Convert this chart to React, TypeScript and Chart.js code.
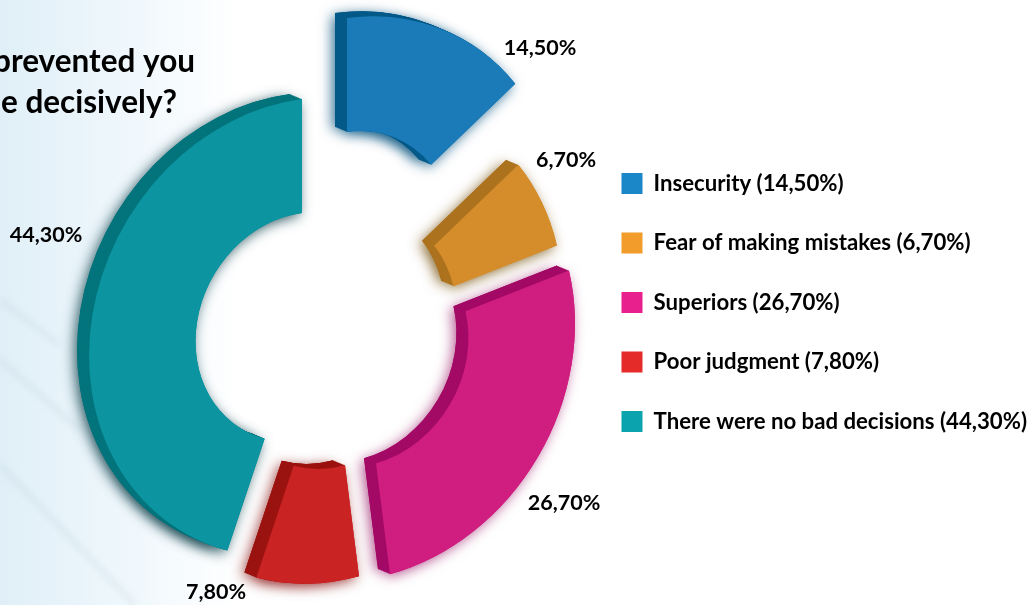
import React, { useEffect, useRef } from "react";
import { Chart, registerables } from "chart.js";

Chart.register(...registerables);

const categories = [
  "Insecurity",
  "Fear of making mistakes",
  "Superiors",
  "Poor judgment",
  "There were no bad decisions",
];
const shares = [14.5, 6.7, 26.7, 7.8, 44.3];
const faceColors = ["#1a7bb8", "#d58d2b", "#cf1d80", "#ca2323", "#0c94a0"];
const sideColors = ["#045a88", "#ad721e", "#a30a66", "#9b1310", "#03747c"];
const legendColors = ["#1b87c9", "#f29c2b", "#e7208e", "#e52a2a", "#0ba3ae"];
const shadowColors = [
  "rgba(4,82,126,0.75)",
  "rgba(122,84,16,0.75)",
  "rgba(143,0,88,0.6)",
  "rgba(138,26,24,0.7)",
  "rgba(20,70,80,0.8)",
];
const titleLines = ["prevented you", "e decisively?"];

// Exploded slice centres and value label anchors, in canvas pixels.
const sliceCentres = [
  [347, 246],
  [350, 327],
  [362, 352],
  [331, 354],
  [302, 327],
];
const labelAnchors = [
  [540, 48],
  [566, 160],
  [564, 503],
  [216, 592],
  [46, 235],
];

// Soft diagonal streaks in the page backdrop.
const streaks = [
  [0, 360, 80, 430],
  [0, 465, 135, 605],
  [0, 300, 60, 345],
];

const FONT = "Lato, 'Open Sans', sans-serif";
const pct = (v: number) => v.toFixed(2).replace(".", ",") + "%";

// Tilt of the ring plane and the direction of its extrusion.
const TILT_X = 0.934;
const TILT_Y = -0.125;
const DEPTH_X = -12;
const DEPTH_Y = -5;
const DEPTH_STEPS = 14;

const backdrop = {
  id: "backdrop",
  beforeDraw(chart: any) {
    const { ctx, width, height } = chart;
    ctx.save();
    ctx.fillStyle = "#ffffff";
    ctx.fillRect(0, 0, width, height);
    const g = ctx.createLinearGradient(0, 0, 240, 0);
    g.addColorStop(0, "#e0eff7");
    g.addColorStop(0.5, "#eef7fc");
    g.addColorStop(1, "#ffffff");
    ctx.fillStyle = g;
    ctx.fillRect(0, 0, 240, height);
    ctx.filter = "blur(3px)";
    ctx.strokeStyle = "rgba(170,190,205,0.25)";
    ctx.lineWidth = 4;
    streaks.forEach(([x0, y0, x1, y1]) => {
      ctx.beginPath();
      ctx.moveTo(x0, y0);
      ctx.lineTo(x1, y1);
      ctx.stroke();
    });
    ctx.filter = "none";
    ctx.fillStyle = "#000000";
    ctx.font = `bold 31.5px ${FONT}`;
    ctx.textAlign = "right";
    ctx.textBaseline = "alphabetic";
    ctx.fillText(titleLines[0], 195, 72);
    ctx.fillText(titleLines[1], 177, 113);
    ctx.restore();
  },
};

const extrudedRing = {
  id: "extrudedRing",
  beforeDatasetDraw(chart: any) {
    const { ctx } = chart;
    const arcs = chart.getDatasetMeta(0).data;
    arcs.forEach((arc: any, i: number) => {
      const [cx, cy] = sliceCentres[i];
      const paint = (dx: number, dy: number, fill: string, shadow: boolean) => {
        ctx.save();
        ctx.transform(
          TILT_X,
          TILT_Y,
          0,
          1,
          cx + dx - TILT_X * arc.x,
          cy + dy - TILT_Y * arc.x - arc.y
        );
        if (shadow) {
          ctx.shadowColor = shadowColors[i];
          ctx.shadowBlur = 13;
          ctx.shadowOffsetX = -3;
          ctx.shadowOffsetY = 3;
        }
        const base = arc.options;
        arc.options = Object.assign(Object.create(base), {
          backgroundColor: fill,
          borderWidth: 0,
        });
        arc.draw(ctx);
        arc.options = base;
        ctx.restore();
      };
      paint(DEPTH_X, DEPTH_Y, sideColors[i], true);
      paint(0, 0, faceColors[i], true);
      for (let s = DEPTH_STEPS; s >= 1; s--) {
        const k = s / DEPTH_STEPS;
        paint(DEPTH_X * k, DEPTH_Y * k, sideColors[i], false);
      }
      paint(0, 0, faceColors[i], false);
    });
    return false;
  },
  afterDatasetsDraw(chart: any) {
    const { ctx } = chart;
    ctx.save();
    ctx.fillStyle = "#000000";
    ctx.font = `bold 21.5px ${FONT}`;
    ctx.textAlign = "center";
    ctx.textBaseline = "middle";
    shares.forEach((v, i) => {
      ctx.fillText(pct(v), labelAnchors[i][0], labelAnchors[i][1]);
    });
    ctx.restore();
  },
};

export default function App() {
  const ref = useRef<HTMLCanvasElement>(null);
  useEffect(() => {
    document.body.style.margin = "0";
    const chart = new Chart(ref.current as HTMLCanvasElement, {
      type: "doughnut",
      data: {
        labels: categories,
        datasets: [
          {
            data: shares,
            backgroundColor: faceColors,
            borderWidth: 0,
          },
        ],
      },
      plugins: [backdrop, extrudedRing],
      options: {
        responsive: false,
        animation: false,
        radius: 228,
        cutout: "50%",
        layout: { padding: { right: -3 } },
        plugins: {
          tooltip: { enabled: false },
          legend: {
            position: "right",
            labels: {
              boxWidth: 21,
              boxHeight: 21,
              padding: 37.3,
              color: "#000000",
              font: { family: FONT, size: 22.2, weight: "bold" },
              generateLabels: () =>
                categories.map((c, i) => ({
                  text: `${c} (${pct(shares[i])})`,
                  fillStyle: legendColors[i],
                  strokeStyle: legendColors[i],
                  lineWidth: 0,
                  index: i,
                  hidden: false,
                })),
            },
          },
        },
      },
    } as any);
    return () => chart.destroy();
  }, []);
  return <canvas ref={ref} width={1034} height={605} style={{ display: "block" }} />;
}
